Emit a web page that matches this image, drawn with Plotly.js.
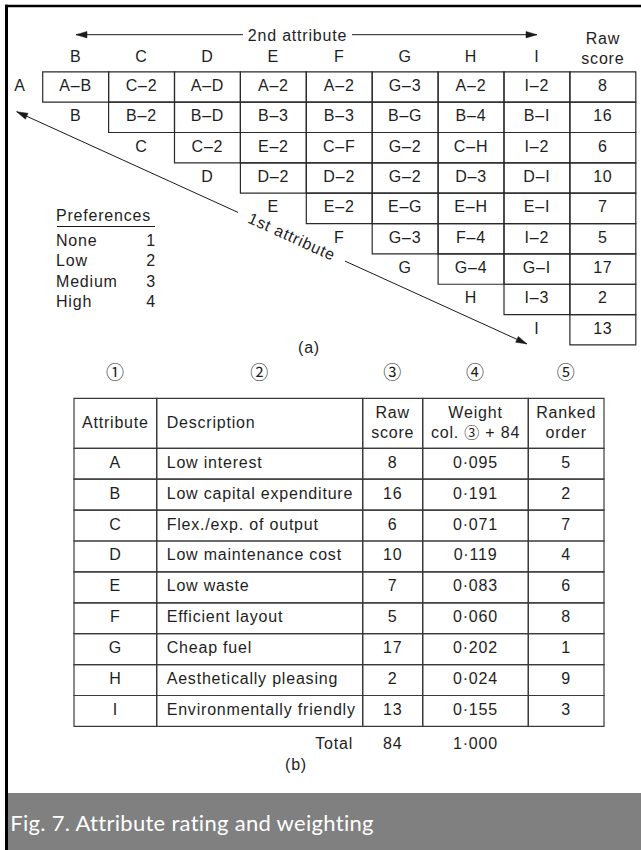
<!DOCTYPE html>
<html><head><meta charset="utf-8">
<script src="https://cdn.plot.ly/plotly-3.0.1.min.js"></script>
<style>
body{margin:0;background:#fff}
#chart{width:641px;height:850px}
#chart svg text{letter-spacing:0.8px}
#chart g.annotation[data-index="2"] text{letter-spacing:0.3px}
</style>
</head><body><div id="chart"></div>
<script>
// ---------- data ----------
const secondAttr = ['B','C','D','E','F','G','H','I'];
const firstAttr = ['A','B','C','D','E','F','G','H','I'];
const pairRows = [
  ['A–B','C–2','A–D','A–2','A–2','G–3','A–2','I–2'],
  ['B–2','B–D','B–3','B–3','B–G','B–4','B–I'],
  ['C–2','E–2','C–F','G–2','C–H','I–2'],
  ['D–2','D–2','G–2','D–3','D–I'],
  ['E–2','E–G','E–H','E–I'],
  ['G–3','F–4','I–2'],
  ['G–4','G–I'],
  ['I–3'],
  []
];
const rawScore = [8,16,6,10,7,5,17,2,13];
const prefNames = ['None','Low','Medium','High'];
const prefValues = [1,2,3,4];
const descriptions = ['Low interest','Low capital expenditure','Flex./exp. of output','Low maintenance cost','Low waste','Efficient layout','Cheap fuel','Aesthetically pleasing','Environmentally friendly'];
const weights = ['0·095','0·191','0·071','0·119','0·083','0·060','0·202','0·024','0·155'];
const rankedOrder = [5,2,7,4,6,8,1,9,3];
const totalRaw = 84;
const totalWeight = '1·000';
const colNumbers = ['①','②','③','④','⑤'];
const CIRC = 'Noto Sans CJK JP, DejaVu Sans, sans-serif';
const tableHeaders = ['Attribute','Description','Raw<br>score',
  'Weight<br>col. <span style="font-family:Noto Sans CJK JP;font-size:15px">③</span> + 84','Ranked<br>order'];
const captionText = 'Fig. 7. Attribute rating and weighting';

// ---------- layout geometry ----------
const FONT = 'Liberation Sans, Arial, DejaVu Sans, Noto Sans CJK JP, sans-serif';
const TXT = '#1e1e1e';
const LINE = '#2a2a2a';
const FS = 16;
const M = {x0:42.7, cw:65.9, y0:71.8, rh:30.35};
const T = {xs:[74,156.7,362.7,422.7,528.3,604], top:398.3, hb:448.3, rh:30.9, pad:10};

const shapes = [];
const traces = [];
function rect(x0,y0,x1,y1,col,w){shapes.push({type:'rect',xref:'x',yref:'y',x0,y0,x1,y1,line:{color:col||LINE,width:w||1.2},layer:'above'});}
function line(x0,y0,x1,y1,col,w){shapes.push({type:'line',xref:'x',yref:'y',x0,y0,x1,y1,line:{color:col||LINE,width:w||1.2}});}
function head(tx,ty,dx,dy){
  const L=Math.hypot(dx,dy), ux=dx/L, uy=dy/L, len=11, hw=3.2;
  const bx=tx-ux*len, by=ty-uy*len;
  const p1=[bx-uy*hw,by+ux*hw], p2=[bx+uy*hw,by-ux*hw];
  shapes.push({type:'path',xref:'x',yref:'y',path:`M${tx},${ty} L${p1[0]},${p1[1]} L${p2[0]},${p2[1]} Z`,fillcolor:'#1a1a1a',line:{color:'#1a1a1a',width:0.5}});
}
function textTrace(xs,ys,texts,pos,size,family){
  traces.push({type:'scatter',mode:'text',x:xs,y:ys,text:texts,textposition:pos||'middle center',
    textfont:{family:family||FONT,size:size||FS,color:TXT},hoverinfo:'skip',showlegend:false,cliponaxis:false});
}

// ---------- (a) triangular matrix ----------
const cx=[],cy=[],ct=[];
pairRows.forEach((row,r)=>{
  const yTop=M.y0+r*M.rh;
  row.forEach((txt,k)=>{
    const j=r+k;
    rect(M.x0+j*M.cw,yTop,M.x0+(j+1)*M.cw,yTop+M.rh);
    cx.push(M.x0+(j+0.5)*M.cw); cy.push(yTop+M.rh/2); ct.push(txt);
  });
  rect(M.x0+8*M.cw,yTop,M.x0+9*M.cw,yTop+M.rh);
  cx.push(M.x0+8.5*M.cw); cy.push(yTop+M.rh/2); ct.push(String(rawScore[r]));
});
textTrace(cx,cy,ct);
textTrace(secondAttr.map((_,j)=>M.x0+(j+0.5)*M.cw), secondAttr.map(()=>58.3), secondAttr);
textTrace([M.x0+8.5*M.cw],[50],['Raw<br>score']);
textTrace(firstAttr.map((_,r)=> r===0 ? 20 : M.x0+(r-0.5)*M.cw),
          firstAttr.map((_,r)=>M.y0+(r+0.5)*M.rh), firstAttr);

// 2nd attribute arrow
line(76,34.7,243,34.7,'#1a1a1a',1); head(76,34.7,-1,0);
line(352,34.7,537,34.7,'#1a1a1a',1); head(537,34.7,1,0);
// 1st attribute arrow
const slope=(343.9-111.7)/(527-16.7);
const yl=x=>111.7+slope*(x-16.7);
line(16.7,111.7,238,yl(238),'#1a1a1a',1); head(16.7,111.7,-1,-slope);
line(345,yl(345),527,yl(527),'#1a1a1a',1); head(527,yl(527),1,slope);

// preferences legend
textTrace([56],[217],['Preferences'],'middle right');
line(57,226.5,155,226.5,'#1a1a1a',1);
textTrace(prefNames.map(()=>56), prefNames.map((_,i)=>241.5+i*20.5), prefNames,'middle right');
textTrace(prefValues.map(()=>156), prefValues.map((_,i)=>241.5+i*20.5), prefValues.map(String),'middle left');

// ---------- (b) table ----------
const tx=T.xs;
const colC=[0,1,2,3,4].map(i=>(tx[i]+tx[i+1])/2);
for(let i=0;i<5;i++) rect(tx[i],T.top,tx[i+1],T.hb,'#3a3a3a',1.2);
for(let r=0;r<firstAttr.length;r++){
  const y0=T.hb+r*T.rh;
  for(let i=0;i<5;i++) rect(tx[i],y0,tx[i+1],y0+T.rh,'#3a3a3a',1.2);
}
textTrace(colC.map(x=>x), colNumbers.map(()=>374), colNumbers,'middle center',18,CIRC);
textTrace([colC[0],colC[2],colC[3],colC[4]], [423.5,424,424,424],
          [tableHeaders[0],tableHeaders[2],tableHeaders[3],tableHeaders[4]]);
textTrace([tx[1]+T.pad],[423.5],[tableHeaders[1]],'middle right');
const rowY=firstAttr.map((_,r)=>T.hb+(r+0.5)*T.rh);
textTrace(firstAttr.map(()=>colC[0]), rowY, firstAttr);
textTrace(descriptions.map(()=>tx[1]+T.pad), rowY, descriptions,'middle right');
textTrace(rawScore.map(()=>colC[2]), rowY, rawScore.map(String));
textTrace(weights.map(()=>colC[3]), rowY, weights);
textTrace(rankedOrder.map(()=>colC[4]), rowY, rankedOrder.map(String));
textTrace([353],[745],['Total'],'middle left');
textTrace([colC[2]],[745],[String(totalRaw)]);
textTrace([colC[3]],[745],[totalWeight]);
textTrace([296],[766],['(b)']);
textTrace([309],[349],['(a)']);

// ---------- frame & caption ----------
shapes.push({type:'rect',xref:'x',yref:'y',x0:8,y0:793,x1:645,y1:855,fillcolor:'#808080',line:{width:0},layer:'below'});
line(6.5,4.8,6.5,855,'#000',3);
line(5,6,645,6,'#000',2.6);

const annotations=[
  {xref:'x',yref:'y',x:297,y:35,text:'2nd attribute',showarrow:false,font:{family:FONT,size:FS,color:TXT}},
  {xref:'x',yref:'y',x:291.5,y:236.5,text:'1st attribute',showarrow:false,textangle:24.5,font:{family:FONT,size:FS,color:TXT}},
  {xref:'x',yref:'y',x:14,y:822,xanchor:'left',text:captionText,showarrow:false,font:{family:'Lato, Open Sans, sans-serif',size:22,color:'#ffffff'}}
];

Plotly.newPlot('chart',traces,{
  width:641,height:850,margin:{l:0,r:0,t:0,b:0},
  paper_bgcolor:'#fff',plot_bgcolor:'#fff',
  xaxis:{range:[0,641],visible:false,fixedrange:true},
  yaxis:{range:[850,0],visible:false,fixedrange:true},
  shapes,annotations,showlegend:false
},{displayModeBar:false,staticPlot:true});
</script></body></html>
